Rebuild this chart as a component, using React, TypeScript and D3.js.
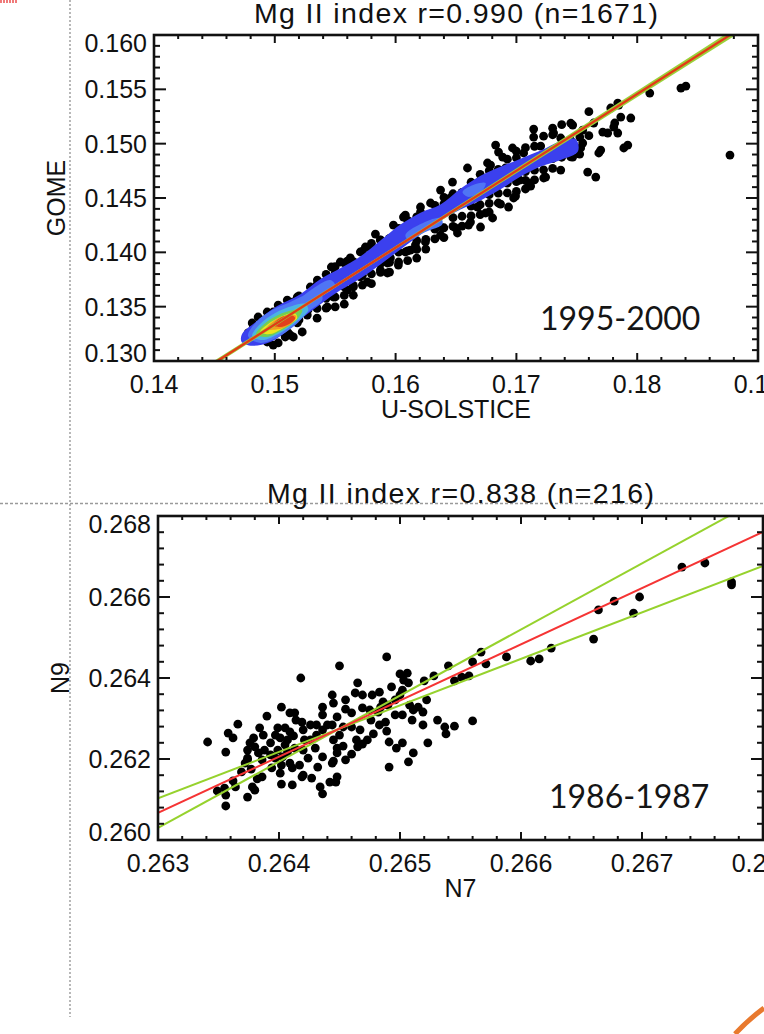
import React from 'react';
import * as d3 from 'd3';

type Pt = [number, number];

// ---------- top panel: U-SOLSTICE vs GOME (1995-2000) ----------
const topXTicks = [0.14, 0.15, 0.16, 0.17, 0.18, 0.19];
const topXLabels = ['0.14', '0.15', '0.16', '0.17', '0.18', '0.19'];
const topYTicks = [0.13, 0.135, 0.14, 0.145, 0.15, 0.155, 0.16];
const topYLabels = ['0.130', '0.135', '0.140', '0.145', '0.150', '0.155', '0.160'];
const topMean: Pt = [0.157, 0.13831];
const topRedSlope = 0.7069;
const topGreenSlopes = [0.700, 0.714];

const topPoints: Pt[] = [
  // outer edge of the cloud and outliers
  [0.17143, 0.15134], [0.17466, 0.15171], [0.17549, 0.15125], [0.17640, 0.15190], [0.17847, 0.15355],
  [0.17864, 0.15245], [0.17947, 0.15236], [0.17806, 0.15153], [0.17839, 0.15098], [0.17756, 0.15098],
  [0.17922, 0.14987], [0.17889, 0.14960], [0.17682, 0.14914], [0.17590, 0.14739], [0.17657, 0.14693],
  [0.17532, 0.14960], [0.17466, 0.14877], [0.17226, 0.14684], [0.17101, 0.14638], [0.16977, 0.14500],
  [0.16935, 0.14417], [0.16803, 0.14316], [0.16703, 0.14233], [0.16604, 0.14251], [0.16512, 0.14178],
  [0.16678, 0.14417], [0.16828, 0.14987], [0.16852, 0.14923], [0.16968, 0.14960], [0.16761, 0.14822],
  [0.16471, 0.14647], [0.16372, 0.14573], [0.16289, 0.14454], [0.16206, 0.14417], [0.15982, 0.14251],
  [0.16065, 0.14325], [0.17143, 0.15061], [0.17308, 0.15098], [0.17449, 0.15033], [0.17060, 0.14914],
  [0.16289, 0.14297], [0.16388, 0.14224], [0.17839, 0.15374], [0.17781, 0.15328], [0.17715, 0.15107],
  [0.17814, 0.15190], [0.17549, 0.15006], [0.17698, 0.14941], [0.18104, 0.15466], [0.18362, 0.15512],
  [0.18403, 0.15530], [0.18768, 0.14895], [0.17524, 0.14904], [0.16886, 0.14877], [0.16595, 0.14776],
  [0.16786, 0.14803], [0.17027, 0.14665], [0.15833, 0.14168], [0.15750, 0.14049], [0.15600, 0.13920],
  [0.15468, 0.13865], [0.15625, 0.13948], [0.15708, 0.13773], [0.15766, 0.13727], [0.15874, 0.13837],
  [0.15932, 0.13902], [0.16023, 0.13883], [0.15352, 0.13745], [0.15294, 0.13681], [0.15186, 0.13589],
  [0.15103, 0.13561], [0.15028, 0.13515], [0.14937, 0.13451], [0.14862, 0.13405], [0.14813, 0.13350],
  [0.15435, 0.13497], [0.15484, 0.13589], [0.15600, 0.13653], [0.15650, 0.13681], [0.15269, 0.13423],
  [0.15186, 0.13350], [0.15128, 0.13239], [0.15086, 0.13221], [0.15542, 0.13911], [0.15650, 0.13791],
  [0.15376, 0.13718], [0.15153, 0.13543], [0.14987, 0.13451], [0.14904, 0.13377], [0.14821, 0.13304],
  [0.14779, 0.13258], [0.14987, 0.13147], [0.15028, 0.13166], [0.15153, 0.13221], [0.15111, 0.13258],
  [0.15227, 0.13267], [0.14937, 0.13175], [0.15932, 0.13810], [0.16123, 0.14021], [0.16247, 0.14095],
  [0.16372, 0.14159], [0.16496, 0.14224], [0.16620, 0.14279], [0.16745, 0.14362], [0.16869, 0.14444],
  [0.16993, 0.14518], [0.17118, 0.14610], [0.17242, 0.14693], [0.17367, 0.14757], [0.16081, 0.14003],
  [0.15957, 0.13948], [0.15833, 0.13911], [0.16164, 0.14067], [0.16081, 0.14343], [0.16206, 0.14371],
  [0.16454, 0.14500], [0.16662, 0.14610], [0.16910, 0.14776], [0.17201, 0.14978], [0.17367, 0.15052],
  [0.16537, 0.14527], [0.15874, 0.14113], [0.15708, 0.14003], [0.15211, 0.13561], [0.15376, 0.13635],
  // dense body of the band, just under the fit
  [0.15050, 0.13271], [0.15200, 0.13378], [0.15350, 0.13484], [0.15500, 0.13589], [0.15650, 0.13695],
  [0.15800, 0.13802], [0.15950, 0.13908], [0.16100, 0.14014], [0.16250, 0.14120], [0.16400, 0.14226],
  [0.16550, 0.14332], [0.16700, 0.14438], [0.16850, 0.14544], [0.17000, 0.14650], [0.17150, 0.14756],
  [0.17300, 0.14862], [0.17450, 0.14968], [0.17600, 0.15074],
  [0.15125, 0.13364], [0.15275, 0.13471], [0.15425, 0.13577], [0.15575, 0.13683], [0.15725, 0.13789],
  [0.15875, 0.13895], [0.16025, 0.14001], [0.16175, 0.14107], [0.16325, 0.14213], [0.16475, 0.14319],
  [0.16625, 0.14425], [0.16775, 0.14531], [0.16925, 0.14637], [0.17075, 0.14743], [0.17225, 0.14849],
  [0.17375, 0.14955], [0.17525, 0.15061],
  // lower side of the band
  [0.15350, 0.13394], [0.15500, 0.13499], [0.15650, 0.13605], [0.15800, 0.13712], [0.15950, 0.13818],
  [0.16100, 0.13924], [0.16250, 0.14030], [0.16400, 0.14136], [0.16550, 0.14242], [0.16700, 0.14348],
  [0.16850, 0.14454], [0.17000, 0.14560], [0.17150, 0.14666], [0.17300, 0.14772], [0.17450, 0.14878],
  [0.15425, 0.13487], [0.15725, 0.13699], [0.16025, 0.13911], [0.16325, 0.14123], [0.16625, 0.14335],
  [0.16925, 0.14547], [0.17225, 0.14759],
  [0.15575, 0.13603], [0.15875, 0.13815], [0.16175, 0.14027], [0.16475, 0.14239], [0.16775, 0.14451],
  [0.17075, 0.14663], [0.17375, 0.14875],
  [0.15575, 0.13523], [0.16175, 0.13947], [0.16775, 0.14371], [0.17075, 0.14583],
  // upper side of the band
  [0.15050, 0.13491], [0.15200, 0.13598], [0.15350, 0.13704], [0.15500, 0.13809], [0.15650, 0.13915],
  [0.15800, 0.14022], [0.15950, 0.14128], [0.16100, 0.14234], [0.16250, 0.14340], [0.16400, 0.14446],
  [0.16550, 0.14552], [0.16700, 0.14658], [0.16850, 0.14764], [0.17000, 0.14870], [0.17150, 0.14976],
  [0.17300, 0.15082], [0.17450, 0.15188], [0.17600, 0.15294],
  [0.15500, 0.13869], [0.15800, 0.14082], [0.16100, 0.14294], [0.16400, 0.14506], [0.16700, 0.14718],
  [0.17000, 0.14930], [0.17300, 0.15142],
  [0.15425, 0.13797], [0.15575, 0.13903], [0.15725, 0.14009], [0.15875, 0.14115], [0.16025, 0.14221],
  [0.16175, 0.14327], [0.16325, 0.14433], [0.16475, 0.14539], [0.16625, 0.14645], [0.16775, 0.14751],
  [0.16925, 0.14857], [0.17075, 0.14963], [0.17225, 0.15069], [0.17375, 0.15175],
];

// density levels of the top scatter, outer to inner
const topBlue: Pt[] = [
  [0.14730, 0.13250], [0.14837, 0.13355], [0.15020, 0.13505], [0.15211, 0.13615], [0.15376, 0.13752],
  [0.15542, 0.13853], [0.15708, 0.13962], [0.15915, 0.14145], [0.16040, 0.14255], [0.16206, 0.14365],
  [0.16372, 0.14440], [0.16537, 0.14585], [0.16703, 0.14705], [0.16869, 0.14788], [0.17035, 0.14862],
  [0.17201, 0.14936], [0.17367, 0.15025], [0.17491, 0.15042], [0.17510, 0.14930], [0.17367, 0.14850],
  [0.17201, 0.14790], [0.17035, 0.14698], [0.16869, 0.14580], [0.16703, 0.14478], [0.16537, 0.14395],
  [0.16372, 0.14294], [0.16206, 0.14165], [0.16040, 0.14027], [0.15874, 0.13889], [0.15708, 0.13760],
  [0.15542, 0.13650], [0.15376, 0.13521], [0.15211, 0.13383], [0.15086, 0.13263], [0.14962, 0.13175],
  [0.14813, 0.13140], [0.14725, 0.13175],
];
const topLightBlue: Pt[][] = [
  [[0.14779, 0.13230], [0.14846, 0.13359], [0.14978, 0.13469], [0.15128, 0.13543], [0.15277, 0.13616],
   [0.15376, 0.13635], [0.15393, 0.13561], [0.15277, 0.13451], [0.15161, 0.13322], [0.15012, 0.13212],
   [0.14879, 0.13166]],
  [[0.15211, 0.13561], [0.15335, 0.13681], [0.15459, 0.13745], [0.15501, 0.13690], [0.15360, 0.13580],
   [0.15235, 0.13506]],
  [[0.16081, 0.14159], [0.16206, 0.14260], [0.16372, 0.14316], [0.16388, 0.14260], [0.16247, 0.14187],
   [0.16106, 0.14113]],
  [[0.16554, 0.14555], [0.16662, 0.14628], [0.16745, 0.14638], [0.16720, 0.14573], [0.16604, 0.14509]],
];
const topCyan: Pt[] = [
  [0.14813, 0.13230], [0.14879, 0.13340], [0.15003, 0.13442], [0.15144, 0.13506], [0.15252, 0.13524],
  [0.15277, 0.13469], [0.15177, 0.13359], [0.15045, 0.13258], [0.14896, 0.13193],
];
const topGreen: Pt[] = [
  [0.14846, 0.13248], [0.14912, 0.13340], [0.15028, 0.13423], [0.15153, 0.13469], [0.15227, 0.13469],
  [0.15194, 0.13396], [0.15078, 0.13294], [0.14929, 0.13221],
];
const topYellow: Pt[] = [
  [0.14879, 0.13267], [0.14945, 0.13340], [0.15045, 0.13405], [0.15161, 0.13442], [0.15186, 0.13396],
  [0.15095, 0.13322], [0.14962, 0.13248],
];
const topOrange: Pt[] = [
  [0.14929, 0.13294], [0.15003, 0.13377], [0.15103, 0.13423], [0.15177, 0.13414], [0.15144, 0.13350],
  [0.15036, 0.13294],
];
const topRed: Pt[] = [
  [0.14987, 0.13331], [0.15045, 0.13396], [0.15128, 0.13423], [0.15169, 0.13396], [0.15119, 0.13340],
  [0.15045, 0.13313],
];

// ---------- bottom panel: N7 vs N9 (1986-1987) ----------
const botXTicks = [0.263, 0.264, 0.265, 0.266, 0.267, 0.268];
const botXLabels = ['0.263', '0.264', '0.265', '0.266', '0.267', '0.268'];
const botYTicks = [0.260, 0.262, 0.264, 0.266, 0.268];
const botYLabels = ['0.260', '0.262', '0.264', '0.266', '0.268'];
const botMean: Pt = [0.2645, 0.26275];
const botRedSlope = 1.388;
const botGreenSlopes = [1.632, 1.148];

const botPoints: Pt[] = [
  [0.26341, 0.26242], [0.26356, 0.26217], [0.26358, 0.26264], [0.26362, 0.26252], [0.26366, 0.26286],
  [0.26349, 0.26121], [0.26355, 0.26128], [0.26356, 0.26111], [0.26356, 0.26084], [0.26374, 0.26106],
  [0.26364, 0.26131], [0.26362, 0.26146], [0.26374, 0.26202], [0.26369, 0.26168], [0.26377, 0.26175],
  [0.26380, 0.26123], [0.26382, 0.26151], [0.26386, 0.26156], [0.26378, 0.26131], [0.26376, 0.26240],
  [0.26380, 0.26230], [0.26374, 0.26222], [0.26383, 0.26215], [0.26384, 0.26277], [0.26379, 0.26252],
  [0.26387, 0.26259], [0.26374, 0.26198], [0.26372, 0.26190], [0.26390, 0.26306], [0.26402, 0.26328],
  [0.26409, 0.26314], [0.26413, 0.26314], [0.26399, 0.26277], [0.26405, 0.26277], [0.26409, 0.26267],
  [0.26397, 0.26259], [0.26401, 0.26252], [0.26407, 0.26247], [0.26412, 0.26257], [0.26393, 0.26240],
  [0.26388, 0.26222], [0.26399, 0.26222], [0.26407, 0.26217], [0.26413, 0.26227], [0.26397, 0.26202],
  [0.26403, 0.26205], [0.26409, 0.26190], [0.26402, 0.26185], [0.26401, 0.26165], [0.26394, 0.26178],
  [0.26411, 0.26178], [0.26402, 0.26138], [0.26411, 0.26136], [0.26418, 0.26400], [0.26386, 0.26198],
  [0.26393, 0.26210], [0.26405, 0.26235], [0.26419, 0.26291], [0.26420, 0.26272], [0.26426, 0.26284],
  [0.26431, 0.26284], [0.26440, 0.26284], [0.26436, 0.26272], [0.26448, 0.26304], [0.26436, 0.26328],
  [0.26436, 0.26309], [0.26444, 0.26358], [0.26445, 0.26338], [0.26450, 0.26430], [0.26420, 0.26222],
  [0.26417, 0.26185], [0.26420, 0.26160], [0.26427, 0.26153], [0.26432, 0.26180], [0.26436, 0.26205],
  [0.26444, 0.26190], [0.26448, 0.26215], [0.26448, 0.26156], [0.26442, 0.26143], [0.26445, 0.26247],
  [0.26448, 0.26227], [0.26434, 0.26131], [0.26436, 0.26114], [0.26419, 0.26156], [0.26426, 0.26247],
  [0.26430, 0.26227], [0.26424, 0.26202], [0.26450, 0.26259], [0.26444, 0.26284], [0.26447, 0.26143],
  [0.26414, 0.26296], [0.26465, 0.26388], [0.26463, 0.26363], [0.26469, 0.26358], [0.26477, 0.26358],
  [0.26486, 0.26341], [0.26484, 0.26328], [0.26490, 0.26333], [0.26469, 0.26326], [0.26475, 0.26321],
  [0.26455, 0.26323], [0.26460, 0.26314], [0.26453, 0.26279], [0.26460, 0.26279], [0.26476, 0.26296],
  [0.26488, 0.26291], [0.26489, 0.26269], [0.26478, 0.26262], [0.26473, 0.26247], [0.26464, 0.26247],
  [0.26465, 0.26230], [0.26469, 0.26237], [0.26491, 0.26242], [0.26497, 0.26227], [0.26453, 0.26232],
  [0.26460, 0.26212], [0.26445, 0.26195], [0.26491, 0.26180], [0.26489, 0.26452], [0.26493, 0.26378],
  [0.26483, 0.26365], [0.26500, 0.26410], [0.26506, 0.26412], [0.26507, 0.26388], [0.26502, 0.26370],
  [0.26500, 0.26358], [0.26482, 0.26316], [0.26496, 0.26309], [0.26455, 0.26346], [0.26508, 0.26333],
  [0.26511, 0.26321], [0.26515, 0.26328], [0.26522, 0.26346], [0.26519, 0.26316], [0.26502, 0.26309],
  [0.26510, 0.26296], [0.26531, 0.26296], [0.26537, 0.26279], [0.26538, 0.26262], [0.26545, 0.26281],
  [0.26560, 0.26294], [0.26519, 0.26284], [0.26502, 0.26240], [0.26523, 0.26240], [0.26511, 0.26215],
  [0.26507, 0.26193], [0.26528, 0.26405], [0.26520, 0.26393], [0.26540, 0.26430], [0.26560, 0.26440],
  [0.26557, 0.26405], [0.26551, 0.26402], [0.26545, 0.26393], [0.26503, 0.26395], [0.26567, 0.26464],
  [0.26571, 0.26435], [0.26588, 0.26452], [0.26608, 0.26442], [0.26615, 0.26447], [0.26625, 0.26474],
  [0.26660, 0.26496], [0.26664, 0.26568], [0.26677, 0.26590], [0.26698, 0.26600], [0.26693, 0.26560],
  [0.26733, 0.26674], [0.26752, 0.26684], [0.26774, 0.26637], [0.26774, 0.26630],
  [0.26467, 0.26272], [0.26483, 0.26284], [0.26496, 0.26346], [0.26431, 0.26259], [0.26455, 0.26198],
  [0.26421, 0.26247],
];

const FONT = '"Liberation Sans", Arial, Helvetica, sans-serif';
const INK = '#111';

type PanelProps = {
  id: string;
  box: { left: number; right: number; top: number; bottom: number };
  xDomain: [number, number];
  yDomain: [number, number];
  xTicks: number[];
  xLabels: string[];
  yTicks: number[];
  yLabels: string[];
  xMinor: number;
  yMinor: number;
  points: Pt[];
  layers?: { polys: Pt[][]; color: string }[];
  mean: Pt;
  redSlope: number;
  greenSlopes: number[];
  redColor: string;
  greenColor: string;
  redWidth: number;
  greenWidth: number;
  title: string;
  titleLen: number;
  titleY: number;
  xTitle: string;
  yTitle: string;
  period: string;
  periodPos: [number, number];
};

function Panel(p: PanelProps) {
  const { left, right, top, bottom } = p.box;
  const x = d3.scaleLinear().domain(p.xDomain).range([left, right]);
  const y = d3.scaleLinear().domain(p.yDomain).range([bottom, top]);

  const minors = (dom: [number, number], step: number, majors: number[]) =>
    d3.range(dom[0], dom[1] + step / 2, step).filter(v => !majors.some(m => Math.abs(m - v) < step / 10));
  const xMinors = minors(p.xDomain, p.xMinor, p.xTicks);
  const yMinors = minors(p.yDomain, p.yMinor, p.yTicks);

  const poly = d3.line<Pt>()
    .x(d => x(d[0]))
    .y(d => y(d[1]))
    .curve(d3.curveCatmullRomClosed.alpha(0.5));

  const fitLine = (s: number) => {
    const [mx, my] = p.mean;
    const [x0, x1] = p.xDomain;
    return { x1: x(x0), y1: y(my + s * (x0 - mx)), x2: x(x1), y2: y(my + s * (x1 - mx)) };
  };

  const cx = (left + right) / 2;
  const cy = (top + bottom) / 2;
  const yLast = p.yTicks.length - 1;

  return (
    <g>
      <defs>
        <clipPath id={`clip-${p.id}`}>
          <rect x={left} y={top} width={right - left} height={bottom - top} />
        </clipPath>
        <filter id={`soft-${p.id}`} x="-5%" y="-5%" width="110%" height="110%">
          <feGaussianBlur stdDeviation="0.5" />
        </filter>
      </defs>

      <g clipPath={`url(#clip-${p.id})`}>
        {p.points.map((d, i) => (
          <circle key={i} cx={x(d[0])} cy={y(d[1])} r={4.4} fill="#000" />
        ))}
        {p.layers && (
          <g filter={`url(#soft-${p.id})`}>
            {p.layers.map((l, i) =>
              l.polys.map((pts, j) => <path key={`${i}-${j}`} d={poly(pts) || ''} fill={l.color} />)
            )}
          </g>
        )}
        {p.greenSlopes.map((s, i) => {
          const l = fitLine(s);
          return <line key={i} {...l} stroke={p.greenColor} strokeWidth={p.greenWidth} />;
        })}
        <line {...fitLine(p.redSlope)} stroke={p.redColor} strokeWidth={p.redWidth} />
      </g>

      {/* ticks on all four sides, pointing inward */}
      <g stroke={INK} strokeWidth={2}>
        {p.xTicks.map((v, i) => (
          <g key={`xt${i}`}>
            <line x1={x(v)} x2={x(v)} y1={bottom} y2={bottom - 8} />
            <line x1={x(v)} x2={x(v)} y1={top} y2={top + 8} />
          </g>
        ))}
        {xMinors.map((v, i) => (
          <g key={`xm${i}`}>
            <line x1={x(v)} x2={x(v)} y1={bottom} y2={bottom - 4} />
            <line x1={x(v)} x2={x(v)} y1={top} y2={top + 4} />
          </g>
        ))}
        {p.yTicks.map((v, i) => (
          <g key={`yt${i}`}>
            <line x1={left} x2={left + 12} y1={y(v)} y2={y(v)} />
            <line x1={right} x2={right - 12} y1={y(v)} y2={y(v)} />
          </g>
        ))}
        {yMinors.map((v, i) => (
          <g key={`ym${i}`}>
            <line x1={left} x2={left + 6} y1={y(v)} y2={y(v)} />
            <line x1={right} x2={right - 6} y1={y(v)} y2={y(v)} />
          </g>
        ))}
      </g>
      <rect x={left} y={top} width={right - left} height={bottom - top} fill="none" stroke={INK} strokeWidth={2.6} />

      <g fontFamily={FONT} fill={INK} fontSize={25}>
        {p.xTicks.map((v, i) => (
          <text key={`xl${i}`} x={x(v)} y={bottom + 32} textAnchor="middle">{p.xLabels[i]}</text>
        ))}
        {p.yTicks.map((v, i) => {
          const shift = i === 0 ? -8 : i === yLast ? 8 : 0;
          return (
            <text key={`yl${i}`} x={left - 7} y={y(v) + 9 + shift} textAnchor="end">{p.yLabels[i]}</text>
          );
        })}
        <text x={cx} y={bottom + 57} textAnchor="middle">{p.xTitle}</text>
        <text
          transform={`translate(${left - 89},${cy}) rotate(-90)`}
          textAnchor="middle"
        >
          {p.yTitle}
        </text>
        <text
          x={cx}
          y={p.titleY}
          textAnchor="middle"
          fontSize={28.5}
          textLength={p.titleLen}
          lengthAdjust="spacing"
        >
          {p.title}
        </text>
      </g>
      <text
        x={p.periodPos[0]}
        y={p.periodPos[1]}
        fontFamily='Lato, "Open Sans", sans-serif'
        fontSize={32}
        fill="#151515"
      >
        {p.period}
      </text>
    </g>
  );
}

export default function App() {
  const W = 764;
  const H = 1034;
  const topLayers = [
    { polys: [topBlue], color: '#3a40ee' },
    { polys: topLightBlue, color: '#4f74f4' },
    { polys: [topCyan], color: '#4cb4e2' },
    { polys: [topGreen], color: '#72cf52' },
    { polys: [topYellow], color: '#efe41e' },
    { polys: [topOrange], color: '#f59a22' },
    { polys: [topRed], color: '#e2401a' },
  ];

  return (
    <svg
      width={W}
      height={H}
      viewBox={`0 0 ${W} ${H}`}
      style={{ position: 'absolute', left: 0, top: 0, background: '#fff' }}
    >
      <rect width={W} height={H} fill="#fff" />

      {/* slide guides behind the figure */}
      <line x1={70} x2={70} y1={0} y2={1017} stroke="#9a9a9a" strokeWidth={1.4} strokeDasharray="2,2" />
      <line x1={0} x2={W} y1={503.5} y2={503.5} stroke="#9a9a9a" strokeWidth={1.4} strokeDasharray="3,2" />
      <line x1={0} x2={17} y1={1.5} y2={1.5} stroke="#f07a7a" strokeWidth={3} strokeDasharray="2,1" />
      <path d="M735,1034 Q748,1020 764,1008" fill="none" stroke="#e8792e" strokeWidth={5} />

      <Panel
        id="top"
        box={{ left: 154, right: 758, top: 35, bottom: 361 }}
        xDomain={[0.14, 0.19]}
        yDomain={[0.13, 0.16]}
        xTicks={topXTicks}
        xLabels={topXLabels}
        yTicks={topYTicks}
        yLabels={topYLabels}
        xMinor={0.002}
        yMinor={0.001}
        points={topPoints}
        layers={topLayers}
        mean={topMean}
        redSlope={topRedSlope}
        greenSlopes={topGreenSlopes}
        redColor="#e33a16"
        greenColor="#9ad23a"
        redWidth={2.4}
        greenWidth={2.4}
        title="Mg II index r=0.990 (n=1671)"
        titleLen={404}
        titleY={23}
        xTitle="U-SOLSTICE"
        yTitle="GOME"
        period="1995-2000"
        periodPos={[540, 330]}
      />
      <Panel
        id="bot"
        box={{ left: 158, right: 763, top: 516, bottom: 840 }}
        xDomain={[0.263, 0.268]}
        yDomain={[0.26, 0.268]}
        xTicks={botXTicks}
        xLabels={botXLabels}
        yTicks={botYTicks}
        yLabels={botYLabels}
        xMinor={0.0002}
        yMinor={0.0004}
        points={botPoints}
        mean={botMean}
        redSlope={botRedSlope}
        greenSlopes={botGreenSlopes}
        redColor="#f53434"
        greenColor="#96d22d"
        redWidth={2}
        greenWidth={2}
        title="Mg II index r=0.838 (n=216)"
        titleLen={387}
        titleY={503}
        xTitle="N7"
        yTitle="N9"
        period="1986-1987"
        periodPos={[549, 808]}
      />
    </svg>
  );
}
